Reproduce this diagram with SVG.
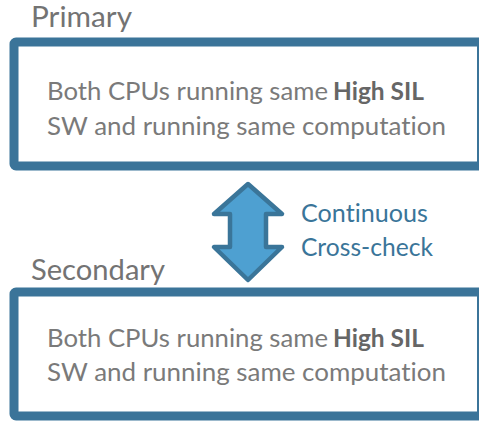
<svg xmlns="http://www.w3.org/2000/svg" width="479" height="421" viewBox="0 0 479 421">
<style>
text{font-variant-ligatures:none}
.box{fill:#fff;stroke:#3B7499;stroke-width:9;stroke-linejoin:round}
.title{font-family:Lato,"Open Sans","Liberation Sans",sans-serif;font-size:28.5px;fill:#737373}
.body{font-family:Lato,"Open Sans","Liberation Sans",sans-serif;font-size:25px;fill:#7a7a7a}
.bold{font-weight:bold;fill:#666}
.lbl{font-family:Lato,"Open Sans","Liberation Sans",sans-serif;font-size:25px;fill:#3A7599}
.arrow{fill:#4EA0D1;stroke:#3A7599;stroke-width:4.5;stroke-linejoin:round}
</style>
<rect width="479" height="421" fill="#fff"/>
<g id="primary">
<text class="title" x="31" y="27" textLength="101" lengthAdjust="spacingAndGlyphs">Primary</text>
<rect class="box" x="14" y="42" width="467.5" height="124" rx="2"/>
<text class="body" x="47" y="100" textLength="281" lengthAdjust="spacingAndGlyphs">Both CPUs running same</text>
<text class="body bold" x="333" y="100" textLength="91" lengthAdjust="spacingAndGlyphs">High SIL</text>
<text class="body" x="47" y="135" textLength="399" lengthAdjust="spacingAndGlyphs">SW and running same computation</text>
</g>
<g id="secondary">
<text class="title" x="31" y="280" textLength="134" lengthAdjust="spacingAndGlyphs">Secondary</text>
<rect class="box" x="14" y="292" width="467.5" height="124" rx="2"/>
<text class="body" x="47" y="347" textLength="281" lengthAdjust="spacingAndGlyphs">Both CPUs running same</text>
<text class="body bold" x="333" y="347" textLength="91" lengthAdjust="spacingAndGlyphs">High SIL</text>
<text class="body" x="47" y="381" textLength="399" lengthAdjust="spacingAndGlyphs">SW and running same computation</text>
</g>
<g id="connectors">
<path class="arrow" d="M248,184 L282,214 L266,214 L266,247 L282,247 L248,280 L214,247 L230,247 L230,214 L214,214 Z"/>
<text class="lbl" x="301" y="222" textLength="127" lengthAdjust="spacingAndGlyphs">Continuous</text>
<text class="lbl" x="301" y="256" textLength="132" lengthAdjust="spacingAndGlyphs">Cross-check</text>
</g>
</svg>
